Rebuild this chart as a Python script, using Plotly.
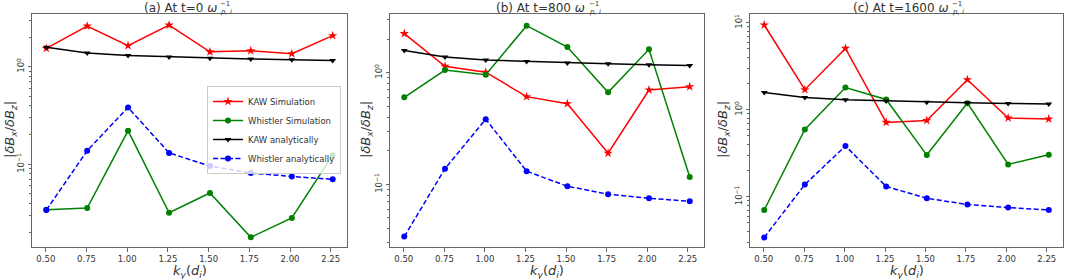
import plotly.graph_objects as go

# ---------------- data ----------------
ky = [0.503, 0.754, 1.005, 1.257, 1.508, 1.759, 2.011, 2.262]

kaw_analytic = [1.58, 1.38, 1.30, 1.26, 1.22, 1.20, 1.18, 1.16]
whistler_analytic = [0.0340, 0.138, 0.383, 0.131, 0.096, 0.0815, 0.075, 0.0703]

kaw_sim_t0 = [1.54, 2.61, 1.64, 2.67, 1.42, 1.46, 1.36, 2.08]
whistler_sim_t0 = [0.0343, 0.0357, 0.221, 0.0319, 0.0508, 0.0179, 0.0282, 0.124]

kaw_sim_t800 = [2.24, 1.14, 1.01, 0.610, 0.527, 0.190, 0.70, 0.749]
whistler_sim_t800 = [0.602, 1.057, 0.96, 2.64, 1.70, 0.667, 1.62, 0.116]

kaw_sim_t1600 = [9.41, 1.70, 5.07, 0.715, 0.753, 2.21, 0.803, 0.782]
whistler_sim_t1600 = [0.0703, 0.594, 1.80, 1.31, 0.301, 1.19, 0.235, 0.304]

titles = ["(a) At t=0", "(b) At t=800", "(c) At t=1600"]
x_ticks = [0.50, 0.75, 1.00, 1.25, 1.50, 1.75, 2.00, 2.25]
x_ticktext = ["0.50", "0.75", "1.00", "1.25", "1.50", "1.75", "2.00", "2.25"]
y_tickvals = [0.1, 1, 10]
y_ticktext = ["10<sup>−1</sup>", "10<sup>0</sup>", "10<sup>1</sup>"]
y_ranges_log = [(-1.847, 0.540), (-1.562, 0.526), (-1.578, 1.100)]

sims = [(kaw_sim_t0, whistler_sim_t0), (kaw_sim_t800, whistler_sim_t800),
        (kaw_sim_t1600, whistler_sim_t1600)]

# ---------------- layout geometry ----------------
W, H = 1065, 279
x_domains_px = [(32, 347), (390, 704), (750, 1063)]
y_domain_px = (14, 247)  # top, bottom
ylab_x_px = [10, 366, 723]
title_w_px = [72, 94, 101]  # approx width of main title text

FONT = "DejaVu Sans"
TXT = "#333333"
FRAME = "#666666"

fig = go.Figure()

minor_vals = [m * 10 ** e for e in (-2, -1, 0, 1) for m in range(2, 10)]

for i in range(3):
    xa = "x" if i == 0 else f"x{i+1}"
    ya = "y" if i == 0 else f"y{i+1}"
    kaw_s, wh_s = sims[i]
    show = i == 0
    fig.add_trace(go.Scatter(x=ky, y=kaw_s, xaxis=xa, yaxis=ya, mode="lines+markers",
                             name="KAW Simulation", showlegend=show,
                             line=dict(color="red", width=1.5),
                             marker=dict(symbol="star", size=7, color="red")))
    fig.add_trace(go.Scatter(x=ky, y=wh_s, xaxis=xa, yaxis=ya, mode="lines+markers",
                             name="Whistler Simulation", showlegend=show,
                             line=dict(color="green", width=1.5),
                             marker=dict(symbol="circle", size=6, color="green")))
    fig.add_trace(go.Scatter(x=ky, y=kaw_analytic, xaxis=xa, yaxis=ya, mode="lines+markers",
                             name="KAW analytically", showlegend=show,
                             line=dict(color="black", width=1.5),
                             marker=dict(symbol="triangle-down", size=6, color="black")))
    fig.add_trace(go.Scatter(x=ky, y=whistler_analytic, xaxis=xa, yaxis=ya, mode="lines+markers",
                             name="Whistler analytically", showlegend=show,
                             line=dict(color="blue", width=1.5, dash="5px,2.5px"),
                             marker=dict(symbol="circle", size=6, color="blue")))

    x0, x1 = x_domains_px[i]
    xdom = [x0 / W, x1 / W]
    ydom = [(H - y_domain_px[1]) / H, (H - y_domain_px[0]) / H]
    xkey = "xaxis" if i == 0 else f"xaxis{i+1}"
    ykey = "yaxis" if i == 0 else f"yaxis{i+1}"
    fig.update_layout(**{
        xkey: dict(domain=xdom, anchor=ya, range=[0.415, 2.35],
                   tickvals=x_ticks, ticktext=x_ticktext,
                   ticks="outside", ticklen=3.5, tickcolor=FRAME, tickwidth=1,
                   showline=True, mirror=True, linecolor=FRAME, linewidth=1,
                   showgrid=False, zeroline=False,
                   tickfont=dict(family=FONT, size=8.5, color=TXT)),
        ykey: dict(domain=ydom, anchor=xa, type="log", range=list(y_ranges_log[i]),
                   tickvals=y_tickvals, ticktext=y_ticktext, tickangle=-90,
                   ticks="outside", ticklen=3.5, tickcolor=FRAME, tickwidth=1,
                   showline=True, mirror=True, linecolor=FRAME, linewidth=1,
                   showgrid=False, zeroline=False,
                   minor=dict(tickvals=minor_vals, ticks="outside", ticklen=2,
                              tickcolor=FRAME, showgrid=False),
                   tickfont=dict(family=FONT, size=8.5, color=TXT)),
    })

    xc_px = (x0 + x1) / 2
    tw = title_w_px[i]
    sw = 14
    left_px = xc_px - (tw + sw) / 2
    fig.add_annotation(x=(left_px + tw) / W, y=1 - 8 / H, xref="paper", yref="paper",
                       showarrow=False, text=titles[i] + " <i>ω</i>",
                       font=dict(family=FONT, size=12, color=TXT),
                       xanchor="right", yanchor="middle")
    fig.add_annotation(x=(left_px + tw + 0.5) / W, y=1 - 4.5 / H, xref="paper", yref="paper",
                       showarrow=False, text="−1",
                       font=dict(family=FONT, size=7, color=TXT),
                       xanchor="left", yanchor="middle", borderpad=0)
    fig.add_annotation(x=(left_px + tw + 0.5) / W, y=1 - 11.5 / H, xref="paper", yref="paper",
                       showarrow=False, text="<i>p, i</i>",
                       font=dict(family=FONT, size=7, color=TXT),
                       xanchor="left", yanchor="middle", borderpad=0)
    fig.add_annotation(x=xc_px / W, y=1 - 271 / H, xref="paper", yref="paper", showarrow=False,
                       text="<i>k</i><sub><i>y</i></sub>(<i>d</i><sub><i>i</i></sub>)",
                       font=dict(family=FONT, size=13, color=TXT),
                       xanchor="center", yanchor="middle")
    fig.add_annotation(x=ylab_x_px[i] / W, y=1 - 130 / H, xref="paper", yref="paper",
                       showarrow=False, textangle=-90,
                       text="|<i>δB</i><sub><i>x</i></sub>/<i>δB</i><sub><i>z</i></sub>|",
                       font=dict(family=FONT, size=13, color=TXT),
                       xanchor="center", yanchor="middle")

fig.update_layout(
    width=W, height=H, autosize=False,
    margin=dict(l=0, r=0, t=0, b=0),
    paper_bgcolor="white", plot_bgcolor="white",
    font=dict(family=FONT, color=TXT),
    legend=dict(x=341 / W, y=1 - 130 / H, xanchor="right", yanchor="middle",
                bgcolor="rgba(255,255,255,0.8)", bordercolor="#cccccc", borderwidth=1,
                font=dict(family=FONT, size=8.5, color=TXT), tracegroupgap=0,
                itemwidth=30),
)

fig.write_html("out.html",
               config={"displayModeBar": False},
               post_script="document.body.style.margin='0px';"
                           "document.body.style.overflow='hidden';")
